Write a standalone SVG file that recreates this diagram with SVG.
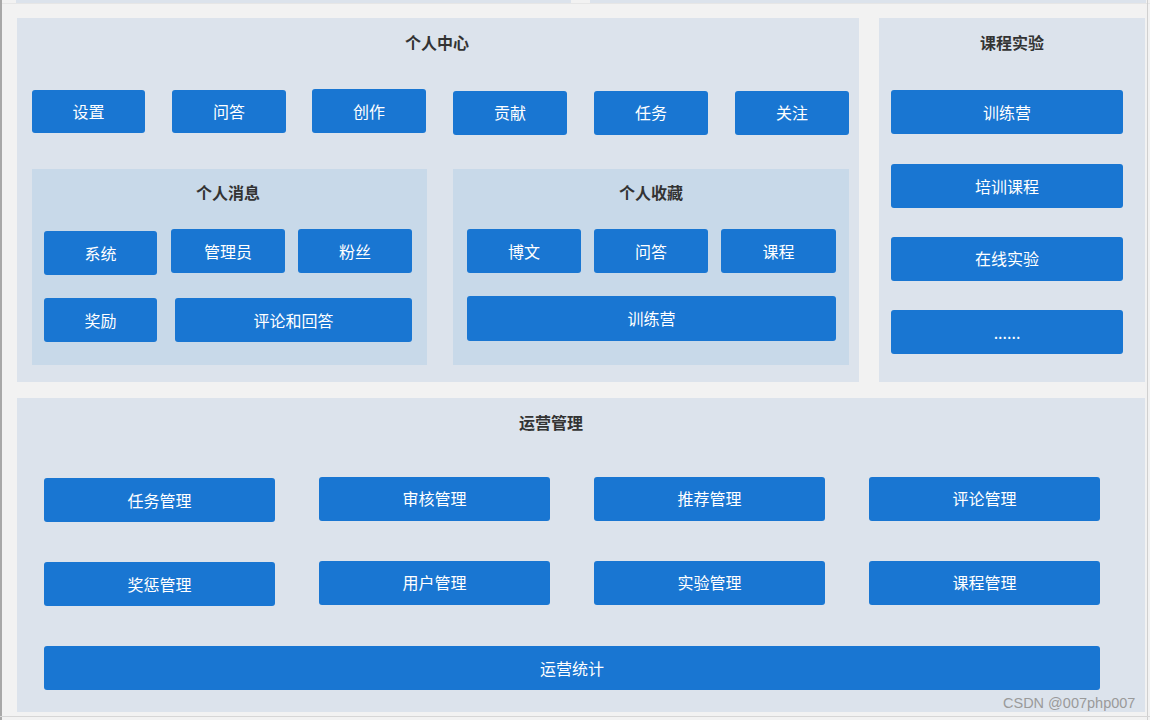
<svg xmlns="http://www.w3.org/2000/svg" width="1150" height="720" viewBox="0 0 1150 720">
<style>
.panel{fill:#dce3ec}
.sub{fill:#c8d9e9}
.btn{fill:#1976d2}
.bt{fill:#ffffff;font-family:"Noto Sans CJK SC","Noto Sans",sans-serif;font-size:16px;text-anchor:middle;dominant-baseline:central}
.title{fill:#333333;font-family:"Noto Sans CJK SC","Noto Sans",sans-serif;font-size:16px;font-weight:bold;text-anchor:middle;dominant-baseline:central}
.wm{fill:#9a9a9a;font-family:"Liberation Sans",Arial,sans-serif;font-size:14.5px}
</style>
<rect x="0" y="0" width="1150" height="720" fill="#f2f2f2"/>
<rect x="16" y="0" width="555" height="3" class="panel"/>
<rect x="590" y="0" width="556" height="3" class="panel"/>
<line x1="0" y1="3.5" x2="1150" y2="3.5" stroke="#e6e6e6" stroke-width="1"/>
<line x1="1" y1="0" x2="1" y2="720" stroke="#a8a8a8" stroke-width="2"/>
<line x1="1147.5" y1="0" x2="1147.5" y2="720" stroke="#d0d0d0" stroke-width="1"/>
<line x1="0" y1="716.5" x2="1150" y2="716.5" stroke="#d6d6d6" stroke-width="1"/>

<g id="personal-center">
<rect x="17" y="18" width="842" height="364" class="panel"/>
<text x="437" y="42" class="title">个人中心</text>
</g>
<g id="course-lab">
<rect x="879" y="18" width="266" height="364" class="panel"/>
<text x="1012" y="42" class="title">课程实验</text>
</g>
<g id="operations">
<rect x="17" y="398" width="1128" height="314" class="panel"/>
<text x="551" y="422" class="title">运营管理</text>
</g>

<g id="pc-settings"><rect x="32" y="90" width="113" height="43" rx="3" class="btn"/><text x="88.5" y="111" class="bt">设置</text></g>
<g id="pc-qa"><rect x="172" y="90" width="114" height="43" rx="3" class="btn"/><text x="229" y="111" class="bt">问答</text></g>
<g id="pc-create"><rect x="312" y="89" width="114" height="44" rx="3" class="btn"/><text x="369" y="111" class="bt">创作</text></g>
<g id="pc-contrib"><rect x="453" y="91" width="114" height="44" rx="3" class="btn"/><text x="510" y="112" class="bt">贡献</text></g>
<g id="pc-task"><rect x="594" y="91" width="114" height="44" rx="3" class="btn"/><text x="651" y="112" class="bt">任务</text></g>
<g id="pc-follow"><rect x="735" y="91" width="114" height="44" rx="3" class="btn"/><text x="792" y="112" class="bt">关注</text></g>

<g id="messages">
<rect x="32" y="169" width="395" height="196" class="sub"/>
<text x="228" y="192" class="title">个人消息</text>
</g>
<g id="msg-system"><rect x="44" y="231" width="113" height="44" rx="3" class="btn"/><text x="100.5" y="253" class="bt">系统</text></g>
<g id="msg-admin"><rect x="171" y="229" width="114" height="44" rx="3" class="btn"/><text x="228" y="251" class="bt">管理员</text></g>
<g id="msg-fans"><rect x="298" y="229" width="114" height="44" rx="3" class="btn"/><text x="355" y="251" class="bt">粉丝</text></g>
<g id="msg-reward"><rect x="44" y="298" width="113" height="44" rx="3" class="btn"/><text x="100.5" y="320" class="bt">奖励</text></g>
<g id="msg-comment"><rect x="175" y="298" width="237" height="44" rx="3" class="btn"/><text x="293.5" y="320" class="bt">评论和回答</text></g>

<g id="favorites">
<rect x="453" y="169" width="396" height="196" class="sub"/>
<text x="651" y="192" class="title">个人收藏</text>
</g>
<g id="fav-blog"><rect x="467" y="229" width="114" height="44" rx="3" class="btn"/><text x="524" y="251" class="bt">博文</text></g>
<g id="fav-qa"><rect x="594" y="229" width="114" height="44" rx="3" class="btn"/><text x="651" y="251" class="bt">问答</text></g>
<g id="fav-course"><rect x="721" y="229" width="115" height="44" rx="3" class="btn"/><text x="778.5" y="251" class="bt">课程</text></g>
<g id="fav-camp"><rect x="467" y="296" width="369" height="45" rx="3" class="btn"/><text x="651.5" y="318" class="bt">训练营</text></g>

<g id="cl-camp"><rect x="891" y="90" width="232" height="44" rx="3" class="btn"/><text x="1007" y="112" class="bt">训练营</text></g>
<g id="cl-training"><rect x="891" y="164" width="232" height="44" rx="3" class="btn"/><text x="1007" y="186" class="bt">培训课程</text></g>
<g id="cl-online"><rect x="891" y="237" width="232" height="44" rx="3" class="btn"/><text x="1007" y="258" class="bt">在线实验</text></g>
<g id="cl-more"><rect x="891" y="310" width="232" height="44" rx="3" class="btn"/><text x="1007" y="332" class="bt">......</text></g>

<g id="op-task"><rect x="44" y="478" width="231" height="44" rx="3" class="btn"/><text x="159.5" y="500" class="bt">任务管理</text></g>
<g id="op-review"><rect x="319" y="477" width="231" height="44" rx="3" class="btn"/><text x="434.5" y="498" class="bt">审核管理</text></g>
<g id="op-recommend"><rect x="594" y="477" width="231" height="44" rx="3" class="btn"/><text x="709.5" y="498" class="bt">推荐管理</text></g>
<g id="op-comment"><rect x="869" y="477" width="231" height="44" rx="3" class="btn"/><text x="984.5" y="498" class="bt">评论管理</text></g>
<g id="op-reward"><rect x="44" y="562" width="231" height="44" rx="3" class="btn"/><text x="159.5" y="584" class="bt">奖惩管理</text></g>
<g id="op-user"><rect x="319" y="561" width="231" height="44" rx="3" class="btn"/><text x="434.5" y="582" class="bt">用户管理</text></g>
<g id="op-lab"><rect x="594" y="561" width="231" height="44" rx="3" class="btn"/><text x="709.5" y="582" class="bt">实验管理</text></g>
<g id="op-course"><rect x="869" y="561" width="231" height="44" rx="3" class="btn"/><text x="984.5" y="582" class="bt">课程管理</text></g>
<g id="op-stats"><rect x="44" y="646" width="1056" height="44" rx="3" class="btn"/><text x="572" y="668" class="bt">运营统计</text></g>

<g id="connectors"></g>
<text x="1003" y="708" class="wm">CSDN @007php007</text>
</svg>
